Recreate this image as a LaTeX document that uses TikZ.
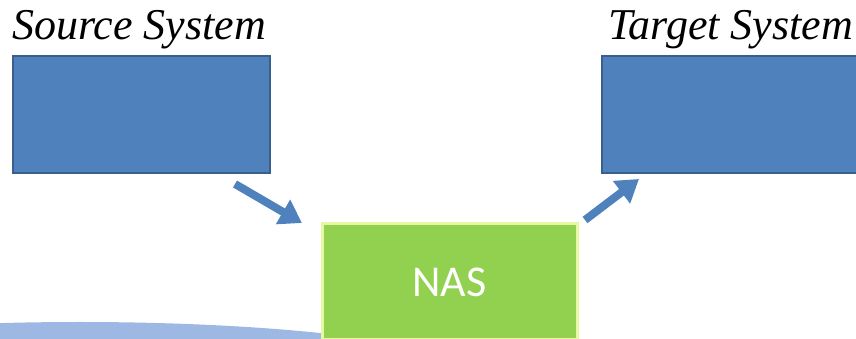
\documentclass[tikz,border=0pt]{standalone}
\usepackage{fontspec}
\setmainfont{Liberation Serif}
\newfontfamily\nasfont{Carlito}
\usetikzlibrary{arrows.meta,positioning}
\definecolor{sysblue}{HTML}{4F81BD}
\definecolor{sysedge}{HTML}{3A5F8C}
\definecolor{nasgreen}{HTML}{92D050}
\definecolor{nasedge}{HTML}{E6F8A2}
\definecolor{arcblue}{HTML}{9DB8E3}
\tikzset{flow/.style={line width=8pt, sysblue, -{Triangle[length=22pt,width=27pt]}},
  sysbox/.style={draw=sysedge, line width=2pt, fill=sysblue, minimum width=257pt, minimum height=117pt, inner sep=0pt},
  nasbox/.style={draw=nasedge, line width=3pt, fill=nasgreen, minimum width=255pt, minimum height=116pt, text=white, font=\nasfont\fontsize{44}{44}\selectfont},
  systitle/.style={font=\rmfamily\itshape\fontsize{44}{44}\selectfont, inner sep=0pt, anchor=base west}}

\begin{document}
\begin{tikzpicture}[x=1pt,y=1pt]
  \clip (0,0) rectangle (856,339);
  % background arc
  \fill[arcblue] (80,-38) ellipse [x radius=400, y radius=55];
  % systems
  \node[sysbox] (src) at (141.5,224.5) {};
  \node[sysbox] (tgt) at (730.5,224.5) {};
  \node[systitle] (srct) at (12,299) {Source System};
  \node[systitle] (tgtt) at (608,299) {Target System};
  % storage in between
  \node[nasbox] (nas) at (449.5,57) {NAS};
  % data flow
  \coordinate (in0) at (235,155);
  \coordinate (in1) at (302,116);
  \coordinate (out0) at (585,119);
  \coordinate (out1) at (639,160);
  \draw[flow] (in0) -- (in1);
  \draw[flow] (out0) -- (out1);
\end{tikzpicture}
\end{document}
